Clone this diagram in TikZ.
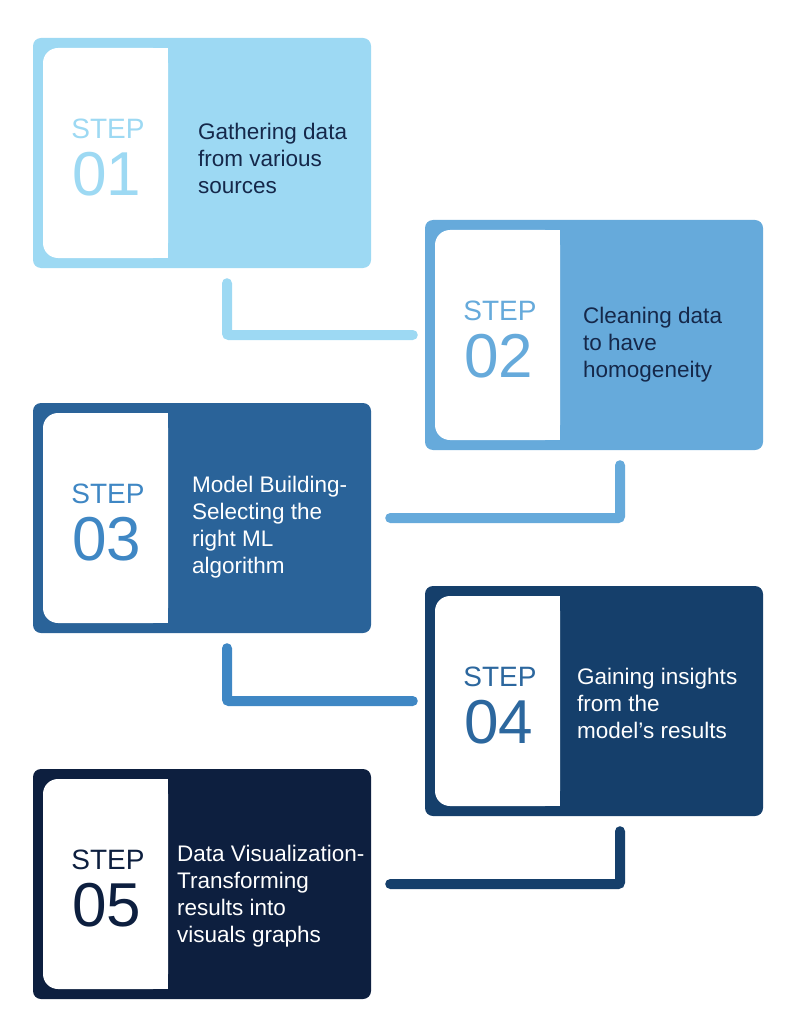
\documentclass[tikz,border=0pt]{standalone}
\usepackage{fontspec}
\setmainfont{Liberation Sans}
\usetikzlibrary{positioning}

\definecolor{stepA}{HTML}{9DD9F3}
\definecolor{stepB}{HTML}{66AADB}
\definecolor{stepC}{HTML}{2A6399}
\definecolor{stepD}{HTML}{153F6B}
\definecolor{stepE}{HTML}{0D1F3F}
\definecolor{numC}{HTML}{3F87C4}
\definecolor{numD}{HTML}{2C679E}
\definecolor{inkdark}{HTML}{15284A}

\tikzset{
  stepbox/.style={rectangle, rounded corners=8pt, minimum width=338pt, minimum height=230pt, inner sep=0pt},
  steptag/.style={font=\fontsize{28}{28}\selectfont, inner sep=0pt},
  stepnum/.style={font=\fontsize{62}{62}\selectfont, inner sep=0pt},
  stepdesc/.style={font=\fontsize{22.5}{27}\selectfont, align=left, anchor=west, inner sep=0pt},
  link/.style={line width=10pt, line cap=round, rounded corners=2pt},
}

\begin{document}
\begin{tikzpicture}[x=1pt,y=-1pt]
    \useasboundingbox (0,0) rectangle (811,1024);

    % boxes, white panels and texts
    \foreach \n/\cx/\cy/\col/\ncol/\tcol/\dx/\dy/\txt in {
      1/202/153/stepA/stepA/inkdark/198/5/{Gathering data\\from various\\sources},
      2/594/335/stepB/stepB/inkdark/583/10/{Cleaning data\\to have\\homogeneity},
      3/202/518/stepC/numC/white/192/9/{Model Building-\\Selecting the\\right ML\\algorithm},
      4/594/701/stepD/numD/white/577/2/{Gaining insights\\from the\\model’s results},
      5/202/884/stepE/stepE/white/177/12/{Data Visualization-\\Transforming\\results into\\visuals graphs}}
    {
      \node[stepbox, fill=\col] (box\n) at (\cx,\cy) {};
      \fill[white, rounded corners=15pt] (\cx-159,\cy-105) rectangle (\cx-34,\cy+105);
      \fill[white] (\cx-80,\cy-105) rectangle (\cx-34,\cy+105);
      \node[steptag, text=\ncol] (tag\n) at (\cx-94,\cy-24) {STEP};
      \node[stepnum, text=\ncol] (num\n) at (\cx-95,\cy+21) {0\n};
      \node[stepdesc, text=\tcol] (desc\n) at (\dx,\cy+\dy) {\txt};
    }

    % connectors
    \draw[link, stepA] ([xshift=25pt,yshift=-15pt]box1.south) |- ([xshift=-12pt]box2.west);
    \draw[link, stepB] ([xshift=26pt,yshift=-15pt]box2.south) |- ([xshift=19pt]box3.east);
    \draw[link, numC] ([xshift=25pt,yshift=-15pt]box3.south) |- ([xshift=-12pt]box4.west);
    \draw[link, stepD] ([xshift=26pt,yshift=-15pt]box4.south) |- ([xshift=19pt]box5.east);
\end{tikzpicture}
\end{document}
